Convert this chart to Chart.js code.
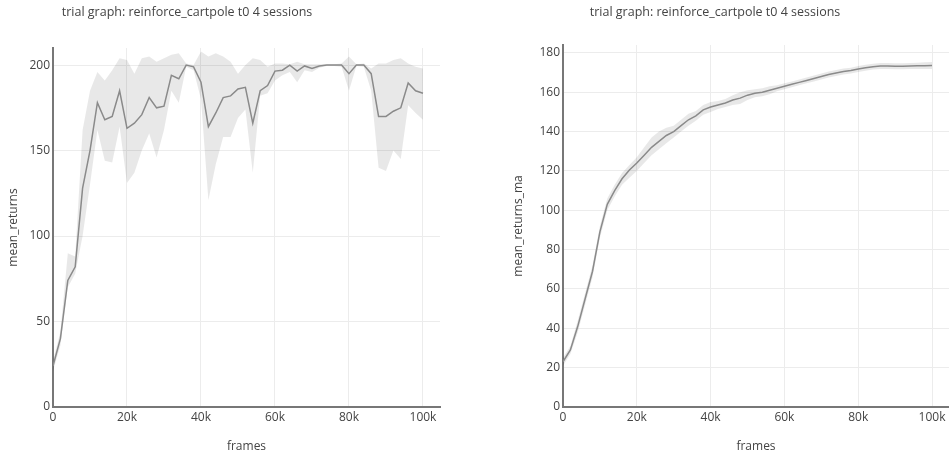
<!DOCTYPE html>
<html>
<head>
<meta charset="utf-8">
<script src="https://cdn.jsdelivr.net/npm/chart.js@4/dist/chart.umd.min.js"></script>
<style>
  body { margin: 0; background: #fff; }
  .panel { position: absolute; top: 0; height: 461px; }
</style>
</head>
<body>
<div class="panel" style="left:0;width:475px"><canvas id="leftChart"></canvas></div>
<div class="panel" style="left:475px;width:474px"><canvas id="rightChart"></canvas></div>
<script>
const chartTitle = "trial graph: reinforce_cartpole t0 4 sessions";

const frames = [0, 2000, 4000, 6000, 8000, 10000, 12000, 14000, 16000, 18000,
  20000, 22000, 24000, 26000, 28000, 30000, 32000, 34000, 36000, 38000,
  40000, 42000, 44000, 46000, 48000, 50000, 52000, 54000, 56000, 58000,
  60000, 62000, 64000, 66000, 68000, 70000, 72000, 74000, 76000, 78000,
  80000, 82000, 84000, 86000, 88000, 90000, 92000, 94000, 96000, 98000, 100000];

const meanReturns = [24, 40, 74, 82, 128, 150, 178, 168, 170, 185,
  163, 166, 171, 181, 175, 176, 194, 192, 200, 199,
  190, 164, 172, 181, 182, 186, 187, 166, 185, 188,
  196.5, 197, 200, 196.5, 199.5, 198, 199.5, 200, 200, 200,
  195, 200, 200, 195, 170, 170, 173, 175, 189.5, 185, 183.5];
const meanReturnsUpper = [27, 44, 90, 88, 162, 185, 196, 191, 197, 204,
  203, 195, 204, 205, 202, 204, 206, 207, 201, 200,
  208, 205, 207, 205, 202, 195, 200, 204, 203, 199,
  201, 201, 200.5, 202, 200.5, 200.5, 200.5, 200.5, 200.5, 201,
  205, 200.5, 201, 198, 201, 201, 203, 204, 201, 199, 198];
const meanReturnsLower = [21, 36, 70, 78, 100, 130, 162, 144, 143, 164,
  131, 137, 150, 160, 146, 162, 185, 178, 199, 197,
  180, 121, 142, 158, 158, 169, 174, 137, 182, 183.5,
  191, 194, 196, 190, 197, 196, 198.5, 199.5, 199.5, 199,
  185, 199.5, 199, 185, 140, 138, 150, 145, 176.5, 172, 168];

const meanReturnsMa = [23, 29, 41, 55, 69, 89, 103, 110, 116, 120.5,
  124, 128, 132, 135, 138, 140, 143, 146, 148, 151,
  152.5, 153.5, 154.5, 156, 157, 158.5, 159.5, 160, 161, 162,
  163, 164, 165, 166, 167, 168, 169, 169.8, 170.5, 171,
  171.8, 172.4, 173, 173.3, 173.3, 173.2, 173.2, 173.3, 173.4, 173.5, 173.6];
const meanReturnsMaUpper = [25, 31, 44, 58, 72, 92, 106, 113, 119, 123,
  127, 132, 137, 140, 142, 143, 146, 149, 150.5, 153.5,
  155, 155.5, 156.5, 158.5, 160, 161, 161.5, 162, 163, 163.5,
  164.5, 165.5, 166.5, 167.5, 168.5, 169.5, 170.5, 171.3, 172, 172.5,
  173.3, 173.9, 174.5, 174.8, 174.8, 174.7, 174.7, 174.8, 175, 175.2, 175.4];
const meanReturnsMaLower = [21, 27, 38, 52, 66, 86, 100, 107, 113, 116.5,
  120, 124, 128, 131, 134, 137, 140, 143, 145.5, 148.5,
  150, 151.5, 152.5, 153.5, 154, 156, 157.5, 158, 159, 160.5,
  161.5, 162.5, 163.5, 164.5, 165.5, 166.5, 167.5, 168.3, 169, 169.5,
  170.3, 170.9, 171.5, 171.8, 171.8, 171.7, 171.7, 171.8, 171.8, 171.8, 171.8];

const xTicks = [0, 20000, 40000, 60000, 80000, 100000];
const xTickLabels = ["0", "20k", "40k", "60k", "80k", "100k"];

const fontFamily = "'Open Sans', 'DejaVu Sans', sans-serif";
const textColor = "#444";

// draws the title at a fixed x centre, like the plotly layout does
const titlePlugin = {
  id: "titleAt",
  afterDraw(chart, args, opts) {
    const ctx = chart.ctx;
    ctx.save();
    ctx.font = "12.5px " + fontFamily;
    ctx.fillStyle = textColor;
    ctx.textAlign = "center";
    ctx.textBaseline = "middle";
    ctx.fillText(opts.text, opts.x, opts.y);
    ctx.restore();
  },
};

function toPoints(values) {
  return values.map((v, i) => ({ x: frames[i], y: v }));
}

function makeChart(id, mean, upper, lower, yLabel, yMax, yStep, pad, titleX) {
  const ctx = document.getElementById(id);
  return new Chart(ctx, {
    type: "line",
    data: {
      datasets: [
        {
          data: toPoints(mean),
          borderColor: "#8a8a8a",
          borderWidth: 1.5,
          pointRadius: 0,
          fill: false,
          tension: 0,
        },
        {
          data: toPoints(upper),
          borderWidth: 0,
          pointRadius: 0,
          backgroundColor: "rgba(0,0,0,0.09)",
          fill: "+1",
          tension: 0,
        },
        {
          data: toPoints(lower),
          borderWidth: 0,
          pointRadius: 0,
          fill: false,
          tension: 0,
        },
      ],
    },
    options: {
      responsive: true,
      maintainAspectRatio: false,
      animation: false,
      layout: { padding: pad },
      plugins: {
        legend: { display: false },
        tooltip: { enabled: false },
        titleAt: { text: chartTitle, x: titleX, y: 12 },
      },
      scales: {
        x: {
          type: "linear",
          min: 0,
          max: 104600,
          afterBuildTicks: (scale) => {
            scale.ticks = xTicks.map((v) => ({ value: v }));
          },
          afterFit: (scale) => {
            scale.height = 54;
          },
          ticks: {
            padding: 3,
            color: textColor,
            font: { family: fontFamily, size: 12 },
            maxRotation: 0,
            callback: (v) => xTickLabels[xTicks.indexOf(v)],
          },
          grid: { color: "#ececec", lineWidth: 1, drawTicks: false },
          border: { display: true, color: "#777", width: 2 },
          title: {
            display: true,
            text: "frames",
            color: textColor,
            font: { family: fontFamily, size: 12 },
            padding: { top: 4, bottom: 7 },
          },
        },
        y: {
          type: "linear",
          min: 0,
          max: yMax,
          afterFit: (scale) => {
            scale.width = pad.yWidth;
          },
          ticks: {
            stepSize: yStep,
            includeBounds: false,
            padding: 3,
            color: textColor,
            font: { family: fontFamily, size: 12 },
          },
          grid: { color: "#ececec", lineWidth: 1, drawTicks: false },
          border: { display: true, color: "#777", width: 2 },
          title: {
            display: true,
            text: yLabel,
            color: textColor,
            font: { family: fontFamily, size: 12 },
            padding: { top: 6, bottom: 4 },
          },
        },
      },
    },
    plugins: [titlePlugin],
  });
}

makeChart("leftChart", meanReturns, meanReturnsUpper, meanReturnsLower,
  "mean_returns", 210, 50, { left: 0, right: 35, top: 48, bottom: 0, yWidth: 53 }, 187);
makeChart("rightChart", meanReturnsMa, meanReturnsMaUpper, meanReturnsMaLower,
  "mean_returns_ma", 184, 20, { left: 30, right: 0, top: 45, bottom: 0, yWidth: 58 }, 240);
</script>
</body>
</html>
